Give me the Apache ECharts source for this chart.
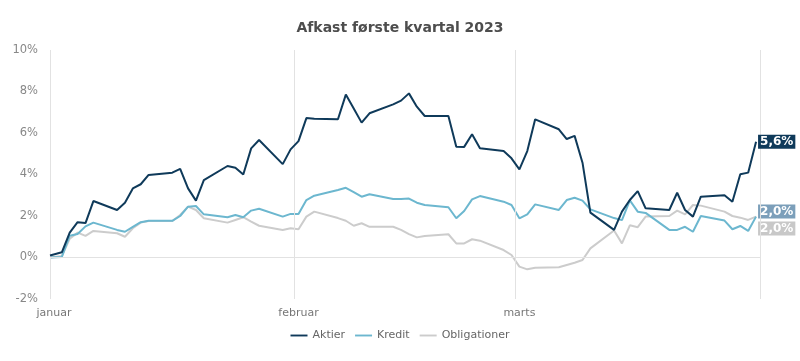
<!DOCTYPE html>
<html>
<head>
<meta charset="utf-8">
<script src="https://cdn.jsdelivr.net/npm/echarts@6/dist/echarts.min.js"></script>
<style>html,body{margin:0;padding:0;background:#fff;}#c{width:800px;height:361px;}</style>
</head>
<body>
<div id="c"></div>
<script>
// First entry is the starting level at the beginning of the year; the rest are trading days.
const dates = ['2023-01-01',
 '2023-01-02','2023-01-03','2023-01-04','2023-01-05','2023-01-06',
 '2023-01-09','2023-01-10','2023-01-11','2023-01-12','2023-01-13',
 '2023-01-16','2023-01-17','2023-01-18','2023-01-19','2023-01-20',
 '2023-01-23','2023-01-24','2023-01-25','2023-01-26','2023-01-27',
 '2023-01-30','2023-01-31',
 '2023-02-01','2023-02-02','2023-02-03',
 '2023-02-06','2023-02-07','2023-02-08','2023-02-09','2023-02-10',
 '2023-02-13','2023-02-14','2023-02-15','2023-02-16','2023-02-17',
 '2023-02-20','2023-02-21','2023-02-22','2023-02-23','2023-02-24',
 '2023-02-27','2023-02-28',
 '2023-03-01','2023-03-02','2023-03-03',
 '2023-03-06','2023-03-07','2023-03-08','2023-03-09','2023-03-10',
 '2023-03-13','2023-03-14','2023-03-15','2023-03-16','2023-03-17',
 '2023-03-20','2023-03-21','2023-03-22','2023-03-23','2023-03-24',
 '2023-03-27','2023-03-28','2023-03-29','2023-03-30','2023-03-31'];

const aktier = [0.1,
 0.25,1.2,1.7,1.66,2.72,
 2.29,2.64,3.33,3.53,3.98,
 4.09,4.27,3.33,2.74,3.73,
 4.41,4.33,4.0,5.26,5.66,
 4.5,5.21,
 5.61,6.72,6.69,
 6.66,7.85,7.18,6.5,6.95,
 7.38,7.56,7.91,7.27,6.82,
 6.82,5.34,5.33,5.94,5.26,
 5.13,4.78,
 4.25,5.13,6.66,
 6.18,5.71,5.86,4.57,2.16,
 1.33,2.21,2.77,3.2,2.37,
 2.29,3.12,2.29,1.97,2.93,
 3.0,2.69,4.01,4.09,5.58];

const kredit = [0,
 0.03,1.05,1.13,1.5,1.68,
 1.33,1.24,1.48,1.7,1.77,
 1.77,2.0,2.45,2.48,2.08,
 1.94,2.05,1.94,2.26,2.35,
 1.97,2.1,
 2.1,2.77,2.98,
 3.25,3.36,3.15,2.93,3.05,
 2.82,2.82,2.84,2.64,2.53,
 2.42,1.89,2.24,2.8,2.96,
 2.69,2.53,
 1.89,2.08,2.56,
 2.29,2.77,2.88,2.74,2.32,
 1.9,1.8,2.75,2.21,2.15,
 1.33,1.33,1.48,1.24,2.0,
 1.78,1.36,1.52,1.28,1.97];

const obligationer = [0,
 0.07,0.9,1.2,1.04,1.28,
 1.17,1.0,1.41,1.68,1.76,
 1.76,2.05,2.45,2.29,1.89,
 1.68,1.81,1.94,1.73,1.53,
 1.33,1.41,
 1.36,1.97,2.21,
 1.9,1.77,1.53,1.65,1.48,
 1.48,1.33,1.13,0.97,1.04,
 1.12,0.68,0.68,0.88,0.81,
 0.36,0.12,
 -0.44,-0.57,-0.49,
 -0.47,-0.36,-0.25,-0.12,0.44,
 1.3,0.68,1.55,1.46,1.97,
 2.0,2.26,2.08,2.53,2.5,
 2.21,2.0,1.92,1.81,1.97];

const monthStarts = ['2023-01-01','2023-02-01','2023-03-01','2023-04-01'];
const monthLabels = ['januar','februar','marts'];
const yTicks = [-2,0,2,4,6,8,10];

const t0 = Date.UTC(2023,0,1);
function dayOffset(s){ const p=s.split('-').map(Number); return (Date.UTC(p[0],p[1]-1,p[2])-t0)/86400000; }
// daily values are placed at mid-day; the first entry is the start-of-year level
const xs = dates.map((d,i)=> i===0 ? dayOffset(d) : dayOffset(d)+0.5);
const pairs = arr => arr.map((v,i)=>[xs[i], v]);
const monthPos = monthStarts.map(dayOffset);
const labelPos = monthPos.slice(0,3).map(v=>v+0.5);

const fmt = v => v.toFixed(1).replace('.',',') + '%';
const FONT = 'DejaVu Sans';

const chart = echarts.init(document.getElementById('c'), null, {renderer:'canvas'});
function endLabel(bg, dy){
  return {show:true, formatter: p => fmt(p.value[1]), color:'#fff', backgroundColor:bg,
    fontFamily:FONT, fontSize:12, fontWeight:'bold', padding:[1,2,1,2], distance:2, offset:[0,dy]};
}
chart.setOption({
  animation:false,
  title:{text:'Afkast første kvartal 2023', left:'center', top:16,
    textStyle:{fontFamily:FONT, fontSize:14, fontWeight:'bold', color:'#4d4d4d'}},
  legend:{data:['Aktier','Kredit','Obligationer'], bottom:15, left:'center', itemWidth:17, itemHeight:10, itemGap:10,
    icon:'path://M0,4 L18,4 L18,6 L0,6 Z',
    textStyle:{fontFamily:FONT, fontSize:11, color:'#666'}},
  grid:{left:50, right:40, top:50, bottom:62},
  xAxis:{type:'value', min:monthPos[0], max:monthPos[3],
    axisLine:{show:false}, axisTick:{show:false}, splitLine:{show:false},
    axisLabel:{customValues:labelPos, margin:9, color:'#777', fontFamily:FONT, fontSize:11,
      formatter: v => monthLabels[labelPos.indexOf(v)] || ''}},
  yAxis:{type:'value', min:yTicks[0], max:yTicks[yTicks.length-1], interval:2,
    axisLine:{show:false}, axisTick:{show:false}, splitLine:{show:false},
    axisLabel:{formatter:'{value}%', margin:12, color:'#888', fontFamily:FONT, fontSize:11.5}},
  series:[
    {name:'grid', type:'line', data:[], z:1, silent:true,
      markLine:{silent:true, symbol:'none', label:{show:false}, animation:false,
        lineStyle:{color:'#e2e2e2', width:1, type:'solid'},
        data: monthPos.map(v=>({xAxis:v})).concat([{yAxis:0}])}},
    {name:'Obligationer', type:'line', data:pairs(obligationer), showSymbol:false, z:3,
      lineStyle:{width:2, color:'#cccccc'}, itemStyle:{color:'#cccccc'},
      endLabel:endLabel('#c8c8c8', 12)},
    {name:'Kredit', type:'line', data:pairs(kredit), showSymbol:false, z:4,
      lineStyle:{width:2, color:'#6cb7cf'}, itemStyle:{color:'#6cb7cf'},
      endLabel:endLabel('#7c9fba', -5)},
    {name:'Aktier', type:'line', data:pairs(aktier), showSymbol:false, z:5,
      lineStyle:{width:2, color:'#0f3a5a'}, itemStyle:{color:'#0f3a5a'},
      endLabel:endLabel('#0f3a5a', 0)}
  ]
});
</script>
</body>
</html>
